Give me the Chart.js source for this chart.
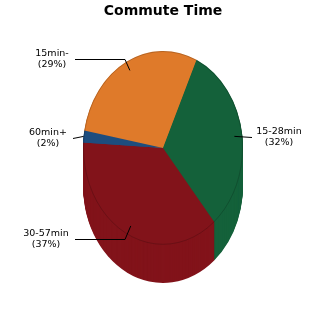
<!DOCTYPE html>
<html>
<head>
<meta charset="utf-8">
<script src="https://cdn.jsdelivr.net/npm/chart.js@4"></script>
<style>
  html, body { margin: 0; padding: 0; background: #fff; }
  #wrap { width: 325px; height: 325px; }
</style>
</head>
<body>
<div id="wrap"><canvas id="chart" width="325" height="325"></canvas></div>
<script>
const categories = ['15min-', '15-28min', '30-57min', '60min+'];
const shares = [29, 32, 37, 2];
const sliceColors = ['#df7a2a', '#14613a', '#82131a', '#1d4d7e'];

// pie is stretched vertically and extruded downwards
const TILT = 97 / 80;
const DEPTH = 38;
// label block centre, leader start x, elbow x, anchor fraction of radius
const labelPos = [
    { tx: 52, ty: 59.5, lx: 75, ex: 125, f: 0.9 },
    { tx: 279, ty: 137.5, lx: 252, ex: null, f: 0.9 },
    { tx: 46, ty: 239.5, lx: 75, ex: 125, f: 0.9 },
    { tx: 48, ty: 138.5, lx: 73, ex: null, f: 1.0 }
];

const pie3d = {
    id: 'pie3d',
    beforeDatasetsDraw(chart) {
        const meta = chart.getDatasetMeta(0);
        const ctx = chart.ctx;
        const cx = meta.data[0].x, cy = meta.data[0].y;
        const R = meta.data[0].outerRadius;
        for (let k = DEPTH; k >= 0; k--) {
            ctx.save();
            ctx.translate(cx, cy + k);
            ctx.scale(1, TILT);
            ctx.translate(-cx, -cy);
            meta.data.forEach(a => a.draw(ctx));
            if (k === 0) {
                ctx.beginPath();
                ctx.arc(cx, cy, R - 0.5, 0, Math.PI * 2);
                ctx.restore();
                ctx.save();
                ctx.strokeStyle = 'rgba(0,0,0,0.18)';
                ctx.lineWidth = 1;
                ctx.stroke();
            }
            ctx.restore();
        }
        return false;
    },
    afterDraw(chart) {
        const meta = chart.getDatasetMeta(0);
        const ctx = chart.ctx;
        ctx.save();
        ctx.font = '9.5px "DejaVu Sans"';
        ctx.fillStyle = '#000';
        ctx.strokeStyle = '#000';
        ctx.lineWidth = 1;
        ctx.textAlign = 'center';
        ctx.textBaseline = 'middle';
        meta.data.forEach((a, i) => {
            const p = labelPos[i];
            const mid = (a.startAngle + a.endAngle) / 2;
            const ax = a.x + p.f * a.outerRadius * Math.cos(mid);
            const ay = a.y + p.f * a.outerRadius * TILT * Math.sin(mid);
            ctx.beginPath();
            ctx.moveTo(p.lx, p.ty);
            if (p.ex !== null) ctx.lineTo(p.ex, p.ty);
            ctx.lineTo(ax, ay);
            ctx.stroke();
            ctx.fillText(categories[i], p.tx, p.ty - 5.5);
            ctx.fillText('(' + shares[i] + '%)', p.tx, p.ty + 5.5);
        });
        ctx.restore();
    }
};

new Chart(document.getElementById('chart'), {
    type: 'pie',
    data: {
        labels: categories,
        datasets: [{
            data: shares,
            backgroundColor: sliceColors,
            borderWidth: 0
        }]
    },
    options: {
        responsive: false,
        animation: false,
        events: [],
        rotation: -79.6,
        layout: { padding: { left: 83, right: 82, top: 0, bottom: 48.5 } },
        plugins: {
            legend: { display: false },
            tooltip: { enabled: false },
            title: {
                display: true,
                text: 'Commute Time',
                color: '#000',
                font: { family: 'DejaVu Sans', size: 14, weight: 'bold' },
                padding: { top: 2.5, bottom: 0 }
            }
        }
    },
    plugins: [pie3d]
});
</script>
</body>
</html>
